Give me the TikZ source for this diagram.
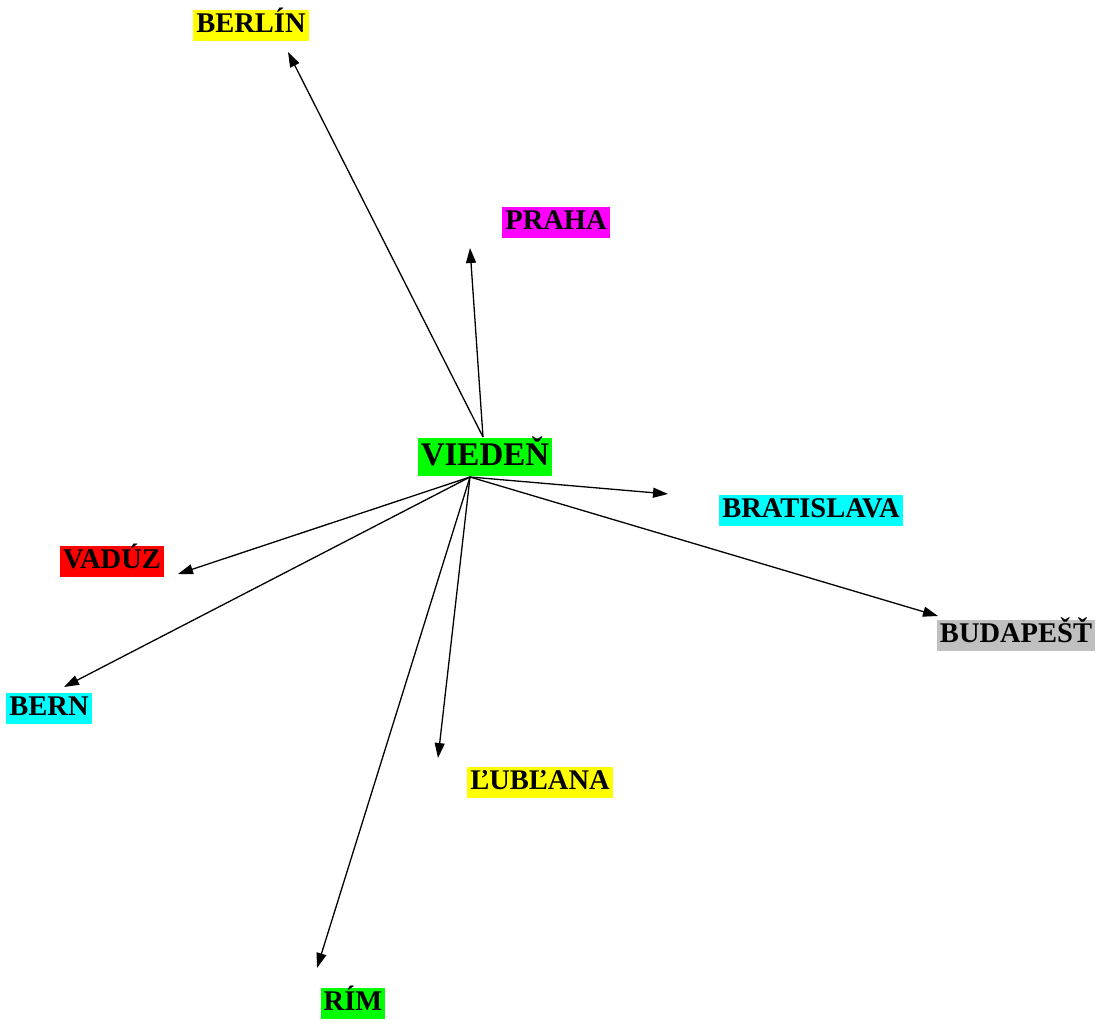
\documentclass[tikz,border=0pt]{standalone}
\usepackage{fontspec}
\setmainfont{Liberation Serif}
\usetikzlibrary{arrows.meta}
\definecolor{cYel}{RGB}{255,255,0}
\definecolor{cMag}{RGB}{255,0,255}
\definecolor{cGrn}{RGB}{0,255,0}
\definecolor{cCya}{RGB}{0,255,255}
\definecolor{cRed}{RGB}{255,0,0}
\definecolor{cGry}{RGB}{192,192,192}
\tikzset{
  city/.style={font=\bfseries\fontsize{28.5}{30}\selectfont, inner xsep=3pt, inner ysep=0pt,
    text height=23pt, text depth=8pt, anchor=center},
  big/.style={font=\bfseries\fontsize{33}{35}\selectfont, text height=27pt, text depth=11pt},
  link/.style={draw=black, line width=1.3pt, -{Triangle[length=15pt,width=10pt]}}
}
\begin{document}
\begin{tikzpicture}[x=1pt,y=-1pt]
\useasboundingbox (0,0) rectangle (1105,1023);
\node[city, fill=cYel] (berlin) at (251,25) {BERLÍN};
\node[city, fill=cMag] (praha) at (556,222) {PRAHA};
\node[city, big, fill=cGrn] (vieden) at (485,457) {VIEDEŇ};
\node[city, fill=cCya] (brat) at (811,510) {BRATISLAVA};
\node[city, fill=cRed] (vaduz) at (112,561) {VADÚZ};
\node[city, fill=cGry] (buda) at (1016,635) {BUDAPEŠŤ};
\node[city, fill=cCya] (bern) at (49,708) {BERN};
\node[city, fill=cYel] (lub) at (540,782) {ĽUBĽANA};
\node[city, fill=cGrn] (rim) at (353,1003) {RÍM};
\coordinate (top) at (483,437);
\coordinate (bot) at (470,477);
\coordinate (tBerlin) at (288,52);
\coordinate (tPraha) at (470,248);
\coordinate (tBrat) at (668,494);
\coordinate (tVaduz) at (178,574);
\coordinate (tBuda) at (938,616);
\coordinate (tBern) at (64,687);
\coordinate (tLub) at (438,758);
\coordinate (tRim) at (317,968);
\draw[link] (top) -- (tBerlin);
\draw[link] (top) -- (tPraha);
\draw[link] (bot) -- (tBrat);
\draw[link] (bot) -- (tVaduz);
\draw[link] (bot) -- (tBuda);
\draw[link] (bot) -- (tBern);
\draw[link] (bot) -- (tLub);
\draw[link] (bot) -- (tRim);
\end{tikzpicture}
\end{document}
